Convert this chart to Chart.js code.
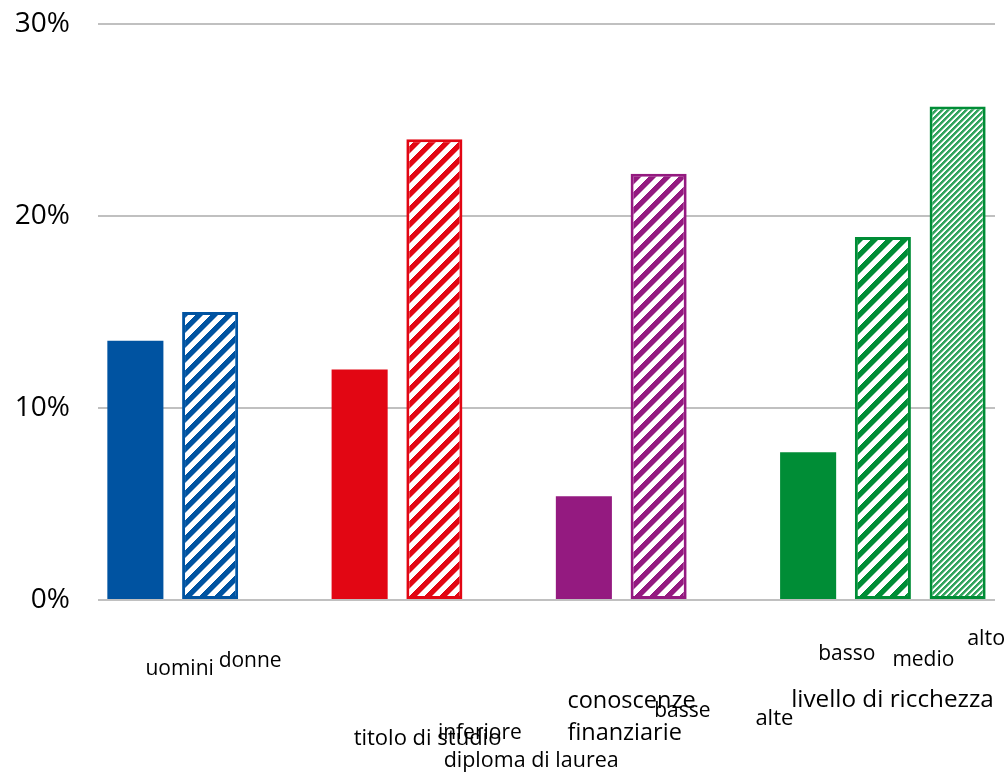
<!DOCTYPE html>
<html>
<head>
<meta charset="utf-8">
<script src="https://cdn.jsdelivr.net/npm/chart.js@4/dist/chart.umd.min.js"></script>
<style>
  html, body { margin: 0; padding: 0; background: #ffffff; }
  #wrap { width: 1007px; height: 774px; }
</style>
</head>
<body>
<div id="wrap"><canvas id="c" width="1007" height="774"></canvas></div>
<script>
// ---- data ----
const categories = ['genere', 'titolo di studio', 'conoscenze finanziarie', 'livello di ricchezza'];
const seriesSolid = [13.5, 12.0, 5.4, 7.7];
const seriesHatch = [15.0, 24.0, 22.2, 18.9];
const seriesFine  = [null, null, null, 25.7];
const yTickValues = [0, 10, 20, 30];
const groupColors = ['#0053a1', '#e20613', '#941a80', '#008d36'];
const groupTitles = ['', 'titolo di studio', 'conoscenze\nfinanziarie', 'livello di ricchezza'];
const barLabelsSolid = ['uomini', 'diploma di laurea', 'alte', 'basso'];
const barLabelsHatch = ['donne', 'inferiore', 'basse', 'medio'];
const barLabelsFine  = ['', '', '', 'alto'];

// ---- label placement (style/position, separate from data) ----
// anchor: [datasetIndex, categoryIndex]; dx: offset of text left edge from bar centre; dy: baseline below axis
const labelPlacement = [
  { text: barLabelsSolid[0], a: [0, 0], dx: 10,  dy: 75,  size: 21 },
  { text: barLabelsHatch[0], a: [1, 0], dx: 8.5, dy: 67,  size: 21 },
  { text: groupTitles[1],    a: [0, 1], dx: -6,  dy: 145, size: 22 },
  { text: barLabelsHatch[1], a: [1, 1], dx: 3.5, dy: 139, size: 21 },
  { text: barLabelsSolid[1], a: [0, 1], dx: 84,  dy: 167, size: 21.5 },
  { text: groupTitles[2],    a: [0, 2], dx: -16.5, dy: 108, size: 23.5, lh: 32 },
  { text: barLabelsHatch[2], a: [1, 2], dx: -4.5, dy: 117, size: 21 },
  { text: barLabelsSolid[2], a: [0, 2], dx: 171.5, dy: 125, size: 22 },
  { text: groupTitles[3],    a: [0, 3], dx: -17, dy: 107, size: 24.3 },
  { text: barLabelsSolid[3], a: [0, 3], dx: 10,  dy: 60,  size: 21 },
  { text: barLabelsHatch[3], a: [1, 3], dx: 9.5, dy: 66,  size: 21 },
  { text: barLabelsFine[3],  a: [2, 3], dx: 9.5, dy: 45,  size: 21.5 }
];

const FONT = '"Open Sans", "Noto Sans", sans-serif';

function hexRgb(h) {
  return [parseInt(h.slice(1, 3), 16), parseInt(h.slice(3, 5), 16), parseInt(h.slice(5, 7), 16)];
}

// pixel-exact diagonal "/" stripes, no tile seams
function makeHatch(color, period, width, alpha) {
  const p = document.createElement('canvas');
  p.width = period; p.height = period;
  const g = p.getContext('2d');
  const img = g.createImageData(period, period);
  const [r, gg, b] = hexRgb(color);
  for (let y = 0; y < period; y++) {
    for (let x = 0; x < period; x++) {
      const d = (x + y) % period;
      // soft edge coverage
      let cov = 0;
      if (d < width) cov = 1;
      else if (d < width + 1) cov = width + 1 - d;
      cov = Math.min(1, Math.max(0, cov)) * alpha;
      const i = (y * period + x) * 4;
      img.data[i]     = Math.round(255 + (r - 255) * cov);
      img.data[i + 1] = Math.round(255 + (gg - 255) * cov);
      img.data[i + 2] = Math.round(255 + (b - 255) * cov);
      img.data[i + 3] = 255;
    }
  }
  g.putImageData(img, 0, 0);
  return g.createPattern(p, 'repeat');
}

const solidColors = groupColors;
const hatchFills = groupColors.map(c => makeHatch(c, 15, 6.5, 1));
const fineFills = groupColors.map(c => makeHatch(c, 6, 2.5, 0.8));

const labelPlugin = {
  id: 'barLabels',
  afterDraw(chart) {
    const ctx = chart.ctx;
    const bottom = chart.chartArea.bottom;
    ctx.save();
    ctx.fillStyle = '#000000';
    ctx.textAlign = 'left';
    ctx.textBaseline = 'alphabetic';
    labelPlacement.forEach(l => {
      if (!l.text) return;
      const meta = chart.getDatasetMeta(l.a[0]);
      const el = meta.data[l.a[1]];
      const x = el.x + l.dx;
      ctx.font = l.size + 'px ' + FONT;
      l.text.split('\n').forEach((line, i) => {
        ctx.fillText(line, x, bottom + l.dy + i * (l.lh || 0));
      });
    });
    ctx.restore();
  }
};

new Chart(document.getElementById('c'), {
  type: 'bar',
  data: {
    labels: categories,
    datasets: [
      { data: seriesSolid, backgroundColor: solidColors, borderWidth: 0 },
      { data: seriesHatch, backgroundColor: hatchFills, borderColor: groupColors, borderWidth: 3 },
      { data: seriesFine, backgroundColor: fineFills, borderColor: groupColors, borderWidth: 3 }
    ]
  },
  options: {
    responsive: false,
    animation: false,
    devicePixelRatio: 1,
    layout: { padding: { left: 0, right: 12, top: 24, bottom: 174 } },
    plugins: { legend: { display: false }, tooltip: { enabled: false } },
    datasets: { bar: { categoryPercentage: 1.0, barPercentage: 0.75, borderSkipped: false } },
    scales: {
      x: { display: false },
      y: {
        min: 0, max: 30,
        afterBuildTicks(scale) { scale.ticks = yTickValues.map(v => ({ value: v })); },
        afterFit(scale) { scale.width = 98; scale.paddingTop = 0; scale.paddingBottom = 0; },
        border: { display: false },
        grid: { color: '#c0c0c0', lineWidth: 2, drawTicks: false },
        ticks: {
          padding: 28,
          color: '#000000',
          font: { family: FONT, size: 28 },
          callback: v => v + '%'
        }
      }
    }
  },
  plugins: [labelPlugin]
});
</script>
</body>
</html>
